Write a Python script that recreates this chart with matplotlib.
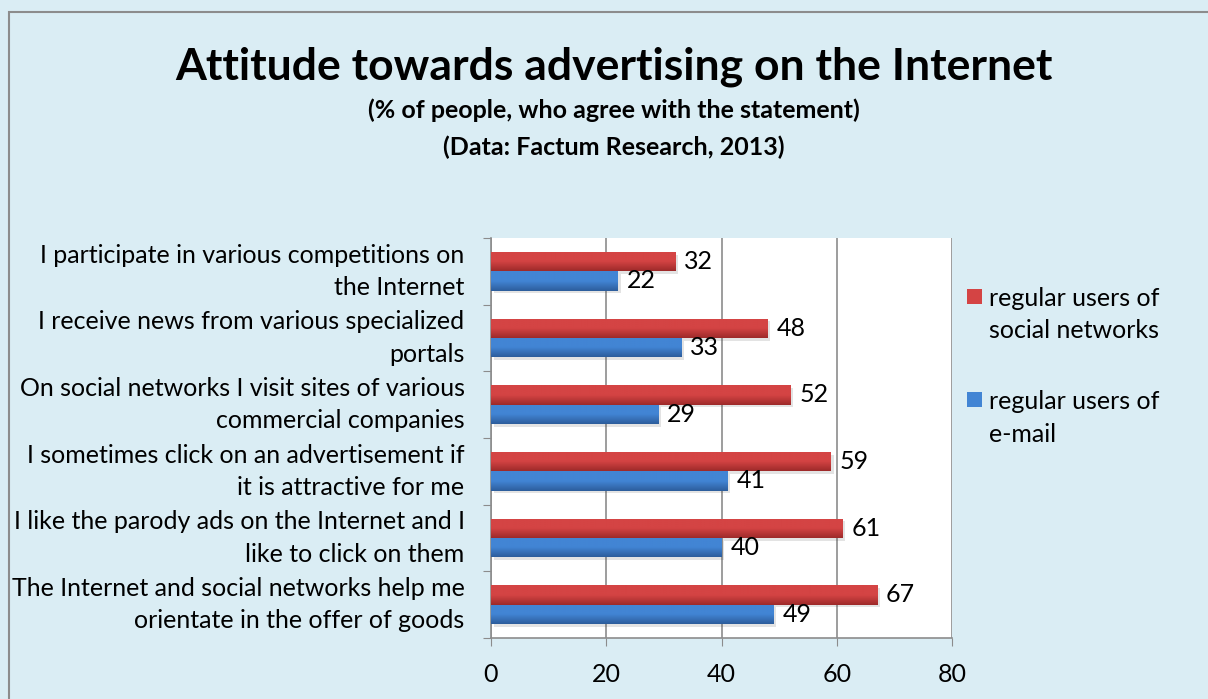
import numpy as np
import matplotlib
matplotlib.use("Agg")
import matplotlib.pyplot as plt
import matplotlib.patheffects as pe
from matplotlib.colors import LinearSegmentedColormap
from matplotlib.patches import Rectangle

plt.rcParams['font.family'] = ['Lato', 'DejaVu Sans']

# survey statements, top to bottom
statements = [
    "I participate in various competitions on\nthe Internet",
    "I receive news from various specialized\nportals",
    "On social networks I visit sites of various\ncommercial companies",
    "I sometimes click on an advertisement if\nit is attractive for me",
    "I like the parody ads on the Internet and I\nlike to click on them",
    "The Internet and social networks help me\norientate in the offer of goods",
]
social = [32, 48, 52, 59, 61, 67]
email = [22, 33, 29, 41, 40, 49]
series_names = ["regular users of\nsocial networks", "regular users of\ne-mail"]

bg = "#daedf4"
red_top, red_bot = "#d44444", "#9e2a2a"
blue_top, blue_bot = "#4285d4", "#2d5d9c"
fs = 18

fig = plt.figure(figsize=(12.08, 6.99), dpi=100, facecolor=bg)

# outer frame
fig.patches.append(Rectangle((9 / 1208, -0.1), 1.2, 1 - 12 / 699 + 0.1,
                             transform=fig.transFigure, fill=False,
                             edgecolor="#8c8c8c", linewidth=1.5))

fig.text(0.508, 1 - 67 / 699, "Attitude towards advertising on the Internet",
         ha="center", va="center", fontsize=32, fontweight="bold")
fig.text(0.508, 1 - 110 / 699, "(% of people, who agree with the statement)",
         ha="center", va="center", fontsize=fs, fontweight="bold")
fig.text(0.508, 1 - 147 / 699, "(Data: Factum Research, 2013)",
         ha="center", va="center", fontsize=fs, fontweight="bold")

ax = fig.add_axes([491 / 1208, 1 - 638 / 699, 461 / 1208, 400 / 699])
ax.set_facecolor("white")

n = len(statements)
y = np.arange(n)
h = 0.29

def gradient_bars(bars, top, bot):
    cmap = LinearSegmentedColormap.from_list("g", [bot, top, top])
    for b in bars:
        b.set_path_effects([pe.SimplePatchShadow(offset=(2, -2), alpha=0.15,
                                                 shadow_rgbFace="#444444"),
                            pe.Normal()])
        x0, y0 = b.get_x(), b.get_y()
        im = ax.imshow(np.linspace(0, 1, 50).reshape(-1, 1), cmap=cmap,
                       aspect="auto", extent=(x0, x0 + b.get_width(), y0, y0 + b.get_height()),
                       origin="upper", zorder=3)
        im.set_clip_path(b)

bars_s = ax.barh(y - h / 2, social, height=h, color=red_top, zorder=3)
bars_e = ax.barh(y + h / 2, email, height=h, color=blue_top, zorder=3)
gradient_bars(bars_s, red_top, red_bot)
gradient_bars(bars_e, blue_top, blue_bot)

for yy, v in zip(y - h / 2, social):
    ax.annotate(str(v), (v, yy), xytext=(6.5, 0), textcoords="offset points",
                va="center", ha="left", fontsize=fs, zorder=5)
for yy, v in zip(y + h / 2, email):
    ax.annotate(str(v), (v, yy), xytext=(6.5, 0), textcoords="offset points",
                va="center", ha="left", fontsize=fs, zorder=5)

ax.set_xlim(0, 80)
ax.set_ylim(n - 0.5, -0.5)
ax.set_xticks([0, 20, 40, 60, 80])
ax.set_yticks(np.arange(n + 1) - 0.5)
ax.set_yticklabels([])

# category labels, right-aligned next to the axis
for yi, s in zip(y, statements):
    ax.annotate(s, (0, yi), xycoords=("axes fraction", "data"),
                xytext=(-19, 0), textcoords="offset points",
                ha="right", va="center", fontsize=fs, linespacing=1.5,
                annotation_clip=False)

ax.tick_params(axis="y", length=6, color="#8c8c8c", direction="out")
ax.tick_params(axis="x", length=6, color="#8c8c8c", labelsize=fs, pad=12)
ax.grid(axis="x", color="#8c8c8c", linewidth=1.2, zorder=1)
ax.set_axisbelow(True)
for s in ["top", "right"]:
    ax.spines[s].set_visible(False)
for s in ["left", "bottom"]:
    ax.spines[s].set_color("#8c8c8c")
    ax.spines[s].set_linewidth(1.2)

# legend drawn by hand so the swatch sits on the first text line
for i, (name, col) in enumerate(zip(series_names, [red_top, blue_top])):
    ytop = 1 - (297 + i * 103) / 699
    fig.patches.append(Rectangle((967 / 1208, ytop - 7 / 699), 15 / 1208, 15 / 699,
                                 transform=fig.transFigure, facecolor=col,
                                 edgecolor="none"))
    fig.text(989 / 1208, ytop + 10 / 699, name, ha="left", va="top",
             fontsize=fs, linespacing=1.5)

fig.savefig("out.png", dpi=100, facecolor=bg)
